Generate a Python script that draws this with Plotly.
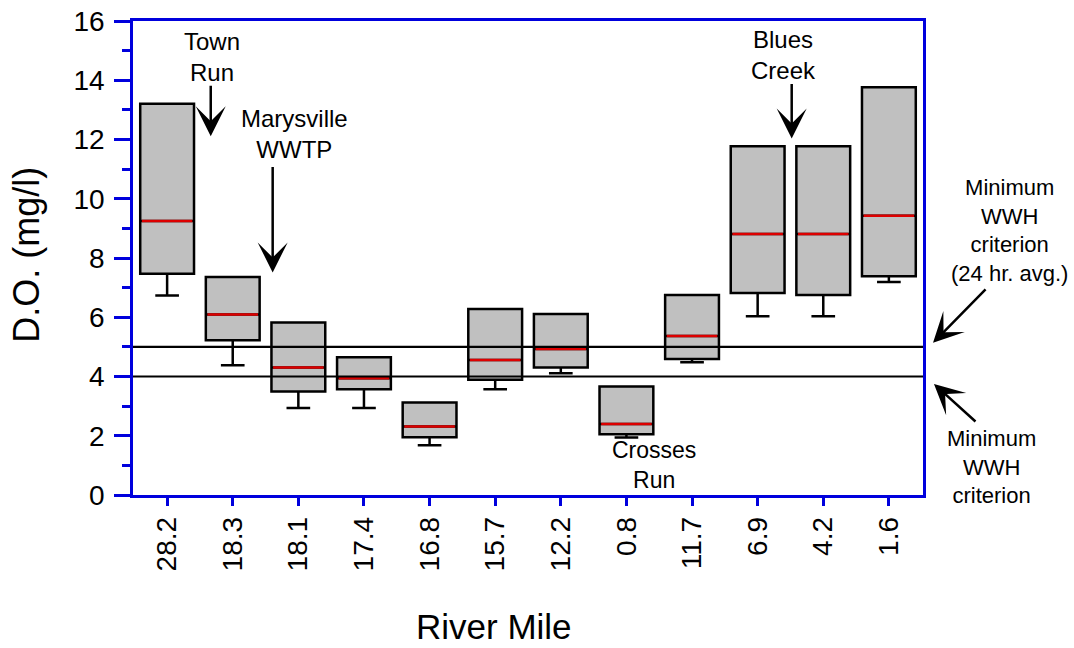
import plotly.graph_objects as go

# Dissolved oxygen summary by sampling site (river mile)
river_mile = ["28.2", "18.3", "18.1", "17.4", "16.8", "15.7",
              "12.2", "0.8", "11.7", "6.9", "4.2", "1.6"]
do_min = [6.73, 4.38, 2.94, 2.94, 1.68, 3.57, 4.11, 1.94, 4.48, 6.03, 6.03, 7.19]
do_q1 = [7.47, 5.22, 3.49, 3.57, 1.95, 3.89, 4.30, 2.05, 4.59, 6.82, 6.75, 7.38]
do_median = [9.25, 6.09, 4.30, 3.94, 2.31, 4.56, 4.93, 2.40, 5.37, 8.81, 8.81, 9.43]
do_q3 = [13.21, 7.36, 5.82, 4.65, 3.12, 6.28, 6.11, 3.66, 6.75, 11.77, 11.77, 13.76]
do_max = [13.21, 7.36, 5.82, 4.65, 3.12, 6.28, 6.11, 3.66, 6.75, 11.77, 11.77, 13.76]

# WWH dissolved oxygen criteria (24 hr. average, minimum)
criteria = [5.0, 4.0]

BLUE = "#0000dd"
FONT = "Arial, Liberation Sans, sans-serif"
BOX_W = 0.82

pos = list(range(len(river_mile)))

fig = go.Figure()

fig.add_trace(go.Box(
    x=pos, q1=do_q1, median=do_median, q3=do_q3,
    lowerfence=do_min, upperfence=do_max,
    width=BOX_W, whiskerwidth=0.44,
    fillcolor="#c0c0c0", line=dict(color="black", width=2.5),
    boxpoints=False, hoverinfo="skip", showlegend=False,
))

# red median bars drawn over each box
mx, my = [], []
for i, m in zip(pos, do_median):
    mx += [i - BOX_W / 2 + 0.025, i + BOX_W / 2 - 0.025, None]
    my += [m, m, None]
fig.add_trace(go.Scatter(
    x=mx, y=my, mode="lines", line=dict(color="#dd0000", width=2.5),
    hoverinfo="skip", showlegend=False,
))

for c in criteria:
    fig.add_shape(type="line", xref="paper", x0=0, x1=1, yref="y", y0=c, y1=c,
                  line=dict(color="black", width=2.2), layer="above")

ann = []


def label(text, x, y, size=24):
    ann.append(dict(text=text, x=x, y=y, xref="paper", yref="paper",
                    showarrow=False, xanchor="center", yanchor="middle",
                    font=dict(family=FONT, size=size, color="black")))


def arrow(x, y, ax, ay):
    ann.append(dict(text="", x=x, y=y, xref="paper", yref="paper",
                    ax=ax, ay=ay, showarrow=True, arrowhead=3,
                    arrowsize=2.0, arrowwidth=2.5, arrowcolor="black"))


label("Town<br>Run", 0.0994, 0.923)
label("Marysville<br>WWTP", 0.2047, 0.7624)
label("Blues<br>Creek", 0.8234, 0.929)
label("Crosses<br>Run", 0.659, 0.0634, size=23)
label("Minimum<br>WWH<br>criterion<br>(24 hr. avg.)", 1.110, 0.5575, size=22)
label("Minimum<br>WWH<br>criterion", 1.0873, 0.0591, size=22)

arrow(0.0984, 0.7567, 0, -52)
arrow(0.1768, 0.4695, 0, -107)
arrow(0.8338, 0.7519, 0, -56)
arrow(1.0127, 0.321, 54, -55)
arrow(1.0139, 0.2344, 43, 39)

# axis titles
label("River Mile", 0.457, -0.2767, size=35)
ann.append(dict(text="D.O. (mg/l)", x=-0.134, y=0.507, xref="paper", yref="paper",
                showarrow=False, textangle=-90, xanchor="center", yanchor="middle",
                font=dict(family=FONT, size=36, color="black")))

fig.update_layout(
    width=1074, height=648,
    margin=dict(l=133, r=151, t=21, b=153),
    paper_bgcolor="white", plot_bgcolor="white",
    font=dict(family=FONT, color="black"),
    annotations=ann,
    xaxis=dict(
        range=[-0.52, 11.52], tickmode="array", tickvals=pos, ticktext=river_mile,
        tickangle=-90, ticks="outside", ticklen=8, tickwidth=2.5, tickcolor=BLUE,
        showline=True, linecolor=BLUE, linewidth=2.5, mirror=True,
        showgrid=False, zeroline=False, automargin=False,
        tickfont=dict(family=FONT, size=28, color="black"),
    ),
    yaxis=dict(
        range=[0, 16], tick0=0, dtick=2, ticks="outside", ticklen=16,
        tickwidth=2.5, tickcolor=BLUE, ticklabelstandoff=4,
        showline=True, linecolor=BLUE, linewidth=2.5, mirror=True,
        showgrid=False, zeroline=False, automargin=False,
        tickfont=dict(family=FONT, size=28, color="black"),
        minor=dict(dtick=1, ticks="outside", ticklen=8, tickwidth=2.5,
                   tickcolor=BLUE, showgrid=False),
    ),
)

fig.write_html("out.html")
